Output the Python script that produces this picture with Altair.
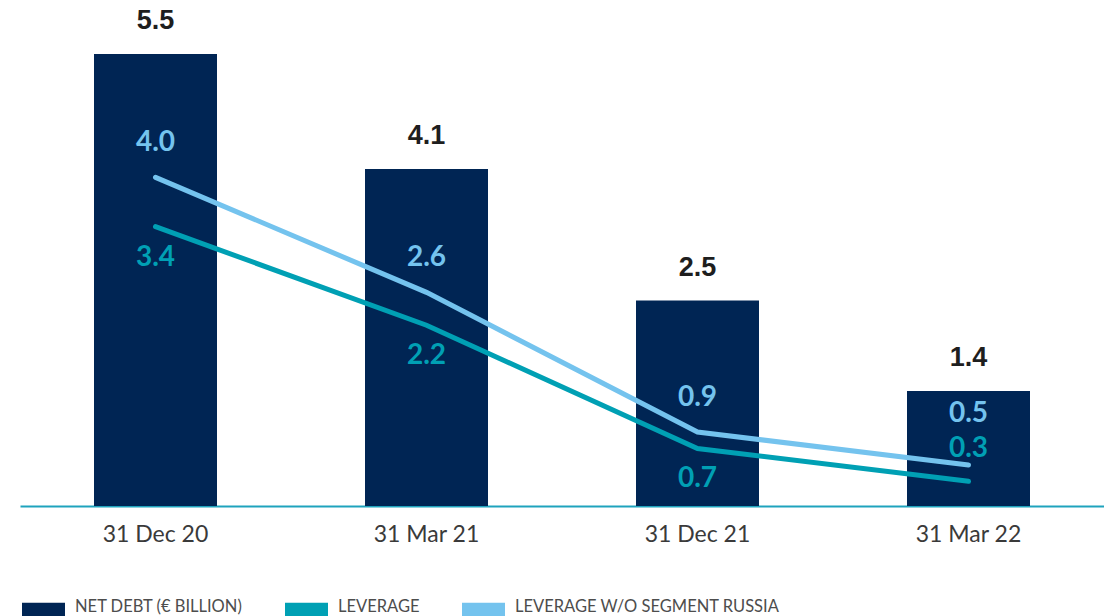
import altair as alt
import pandas as pd

# ---- data ----
dates = ["31 Dec 20", "31 Mar 21", "31 Dec 21", "31 Mar 22"]
net_debt = [5.5, 4.1, 2.5, 1.4]
leverage = [3.4, 2.2, 0.7, 0.3]
leverage_wo_russia = [4.0, 2.6, 0.9, 0.5]
series_names = ["NET DEBT (€ BILLION)", "LEVERAGE", "LEVERAGE W/O SEGMENT RUSSIA"]
series_colors = ["#002554", "#00a0b4", "#74c3ee"]

bars_df = pd.DataFrame({"date": dates, "value": net_debt, "series": series_names[0]})
lines_df = pd.concat([
    pd.DataFrame({"date": dates, "value": leverage, "series": series_names[1]}),
    pd.DataFrame({"date": dates, "value": leverage_wo_russia, "series": series_names[2]}),
], ignore_index=True)

last_date = dates[-1]

x = alt.X(
    "date:N", sort=dates,
    scale=alt.Scale(paddingInner=0, paddingOuter=0),
    axis=alt.Axis(title=None, labelAngle=0, ticks=False, domainColor="#1fa3bd",
                  domainWidth=2, labelFontSize=23, labelColor="#3a3a3a",
                  labelFont="Lato", labelPadding=17),
)
y = alt.Y("value:Q", scale=alt.Scale(domain=[0, 6], nice=False), axis=None)
color_scale = alt.Scale(domain=series_names, range=series_colors)

bars = alt.Chart(bars_df).mark_bar(size=123).encode(
    x=x, y=y,
    color=alt.Color("series:N", scale=color_scale, legend=alt.Legend(
        title=None, orient="none", legendX=2, legendY=572, direction="horizontal",
        symbolType="M-1,-0.186H1V0.56H-1Z", symbolSize=1849, symbolStrokeWidth=0,
        symbolOpacity=1, labelFont="Lato", labelFontSize=16.5, labelColor="#4d4d4d",
        labelOffset=10, columnPadding=42, padding=0, labelLimit=600,
    )),
)

bar_labels = alt.Chart(bars_df).mark_text(
    dy=-25, baseline="alphabetic", font="Liberation Sans", fontWeight="bold",
    fontSize=27, color="#1e1e1e",
).encode(x=x, y=y, text=alt.Text("value:Q", format=".1f"))

lines = alt.Chart(lines_df).mark_line(strokeWidth=5, strokeCap="round").encode(
    x=x, y=y,
    color=alt.Color("series:N", scale=color_scale, legend=None),
)

def line_labels(series, color, dy, last):
    cond = f"datum.date {'==' if last else '!='} '{last_date}'"
    return alt.Chart(lines_df).transform_filter(
        f"datum.series == '{series}'"
    ).transform_filter(cond).mark_text(
        dy=dy, baseline="alphabetic", font="Lato", fontWeight="bold",
        fontSize=28, color=color,
    ).encode(x=x, y=y, text=alt.Text("value:Q", format=".1f"))

chart = alt.layer(
    bars, bar_labels, lines,
    line_labels(series_names[2], series_colors[2], -26, False),
    line_labels(series_names[2], series_colors[2], -43, True),
    line_labels(series_names[1], series_colors[1], 39, False),
    line_labels(series_names[1], series_colors[1], -24, True),
).properties(
    width=1084, height=493,
    autosize=alt.AutoSizeParams(type="none"),
    padding={"left": 12, "top": 5, "right": 0, "bottom": 110},
).configure_view(stroke=None)

chart.save("out.html", embed_options={"renderer": "svg", "actions": False})
